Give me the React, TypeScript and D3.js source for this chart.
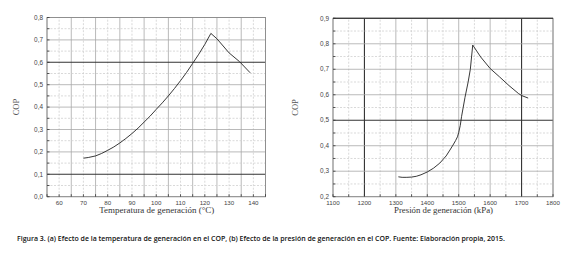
import React from "react";
import * as d3 from "d3";

// Chart (a): temperature of generation vs COP
const tempX = [70, 72, 75, 77.5, 80, 82.5, 85, 87.5, 90, 92.5, 95, 97.5, 100, 102.5, 105, 107.5, 110, 112.5, 115, 117.5, 120, 122.5, 125, 130, 134.3, 138.7];
const tempCOP = [0.172, 0.175, 0.182, 0.193, 0.207, 0.222, 0.24, 0.26, 0.282, 0.306, 0.333, 0.36, 0.39, 0.419, 0.45, 0.483, 0.518, 0.555, 0.595, 0.636, 0.68, 0.729, 0.705, 0.642, 0.603, 0.553];
const tempTicksX = [60, 70, 80, 90, 100, 110, 120, 130, 140];
const tempTicksY = [0, 0.1, 0.2, 0.3, 0.4, 0.5, 0.6, 0.7, 0.8];

// Chart (b): pressure of generation vs COP
const presX = [1308, 1320, 1335, 1350, 1365, 1380, 1400, 1420, 1440, 1460, 1472, 1482, 1490, 1496, 1500, 1505, 1509, 1520, 1530, 1537, 1544.6, 1570, 1600, 1630, 1660, 1690, 1700, 1721];
const presCOP = [0.278, 0.276, 0.276, 0.277, 0.28, 0.286, 0.297, 0.312, 0.332, 0.36, 0.383, 0.403, 0.42, 0.435, 0.452, 0.48, 0.514, 0.59, 0.65, 0.7, 0.795, 0.748, 0.703, 0.67, 0.636, 0.605, 0.597, 0.587];
const presTicksX = [1100, 1200, 1300, 1400, 1500, 1600, 1700, 1800];
const presTicksY = [0.2, 0.3, 0.4, 0.5, 0.6, 0.7, 0.8, 0.9];

const caption =
  "Figura 3. (a) Efecto de la temperatura de generación en el COP, (b) Efecto de la presión de generación en el COP. Fuente: Elaboración propia, 2015.";

const fmt = (v: number) => v.toFixed(1).replace(".", ",");

type PanelProps = {
  xs: number[];
  ys: number[];
  xDomain: [number, number];
  yDomain: [number, number];
  xRange: [number, number];
  yRange: [number, number];
  xTicks: number[];
  yTicks: number[];
  xStep: number;
  yStep: number;
  darkX: number[];
  darkY: number[];
  darkTop: boolean;
  xTitle: string;
  xTitleLen: number;
  copX: number;
};

function Panel(p: PanelProps) {
  const x = d3.scaleLinear().domain(p.xDomain).range(p.xRange);
  const y = d3.scaleLinear().domain(p.yDomain).range(p.yRange);
  const [x0, x1] = p.xRange;
  const [y0, y1] = p.yRange; // y0 bottom, y1 top
  const eps = 1e-6;
  const minorX: number[] = [];
  for (let v = p.xDomain[0]; v <= p.xDomain[1] + eps; v += p.xStep / 2) minorX.push(+v.toFixed(4));
  const minorY: number[] = [];
  for (let v = p.yDomain[0]; v <= p.yDomain[1] + eps; v += p.yStep / 2) minorY.push(+v.toFixed(4));
  const isMajor = (v: number, step: number, base: number) =>
    Math.abs(((v - base) / step) - Math.round((v - base) / step)) < 1e-4;
  const line = d3
    .line<number>()
    .x((_, i) => x(p.xs[i]))
    .y((d) => y(d))
    .curve(d3.curveLinear);
  const isDark = (arr: number[], v: number) => arr.some((a) => Math.abs(a - v) < 1e-6);
  return (
    <g>
      {minorX.map((v) => {
        const maj = isMajor(v, p.xStep, p.xDomain[0]);
        const dark = isDark(p.darkX, v);
        return (
          <line
            key={"gx" + v}
            x1={x(v)}
            x2={x(v)}
            y1={y0}
            y2={y1}
            stroke={dark ? "#333" : maj ? "#a8a8a8" : "#cfcfcf"}
            strokeWidth={dark ? 1.1 : 0.8}
            strokeDasharray={maj || dark ? undefined : "2,1.5"}
          />
        );
      })}
      {minorY.map((v) => {
        const maj = isMajor(v, p.yStep, p.yDomain[0]);
        const dark = isDark(p.darkY, v);
        return (
          <line
            key={"gy" + v}
            x1={x0}
            x2={x1}
            y1={y(v)}
            y2={y(v)}
            stroke={dark ? "#333" : maj ? "#a8a8a8" : "#cfcfcf"}
            strokeWidth={dark ? 1.1 : 0.8}
            strokeDasharray={maj || dark ? undefined : "2,1.5"}
          />
        );
      })}
      <rect x={x0} y={y1} width={x1 - x0} height={y0 - y1} fill="none" stroke="#8a8a8a" strokeWidth={0.9} />
      {p.darkTop && <line x1={x0} x2={x1} y1={y1} y2={y1} stroke="#222" strokeWidth={1.1} />}
      {minorX.map((v) => (
        <line key={"tx" + v} x1={x(v)} x2={x(v)} y1={y0} y2={y0 - 2.5} stroke="#333" strokeWidth={0.8} />
      ))}
      {minorY.map((v) => (
        <line key={"ty" + v} x1={x0} x2={x0 + 2.5} y1={y(v)} y2={y(v)} stroke="#333" strokeWidth={0.8} />
      ))}
      <path d={line(p.ys) || ""} fill="none" stroke="#222" strokeWidth={0.9} strokeLinejoin="round" />
      {p.xTicks.map((v) => (
        <text
          key={"lx" + v}
          x={x(v)}
          y={y0 + 8.5}
          textAnchor="middle"
          fontFamily="Liberation Sans, Arial, sans-serif"
          fontSize={6.2}
          fill="#444"
        >
          {v}
        </text>
      ))}
      {p.yTicks.map((v) => (
        <text
          key={"ly" + v}
          x={x0 - 4}
          y={y(v) + 2.2}
          textAnchor="end"
          fontFamily="Liberation Sans, Arial, sans-serif"
          fontSize={6.4}
          fill="#444"
        >
          {fmt(v)}
        </text>
      ))}
      <text
        x={(x0 + x1) / 2 + 0.5}
        y={y0 + 16}
        textAnchor="middle"
        fontFamily="Liberation Serif, Times New Roman, serif"
        fontSize={9}
        fill="#333"
        textLength={p.xTitleLen}
        lengthAdjust="spacingAndGlyphs"
      >
        {p.xTitle}
      </text>
      <text
        transform={`translate(${p.copX},${(y0 + y1) / 2}) rotate(-90)`}
        textAnchor="middle"
        fontFamily="Liberation Serif, Times New Roman, serif"
        fontSize={8.5}
        fill="#555"
      >
        COP
      </text>
    </g>
  );
}

export default function App() {
  return (
    <svg
      width={570}
      height={268}
      style={{ position: "absolute", left: 0, top: 0, background: "#fff" }}
    >
      <rect width={570} height={268} fill="#fff" />
      <Panel
        xs={tempX}
        ys={tempCOP}
        xDomain={[55, 145]}
        yDomain={[0, 0.8]}
        xRange={[47, 265.5]}
        yRange={[196.7, 17.5]}
        xTicks={tempTicksX}
        yTicks={tempTicksY}
        xStep={10}
        yStep={0.1}
        darkX={[]}
        darkY={[0.1, 0.6]}
        darkTop={false}
        xTitle="Temperatura de generación (°C)"
        xTitleLen={115}
        copX={19}
      />
      <Panel
        xs={presX}
        ys={presCOP}
        xDomain={[1100, 1800]}
        yDomain={[0.2, 0.9]}
        xRange={[333, 553]}
        yRange={[196.7, 18.3]}
        xTicks={presTicksX}
        yTicks={presTicksY}
        xStep={100}
        yStep={0.1}
        darkX={[1200, 1700]}
        darkY={[0.5]}
        darkTop={true}
        xTitle="Presión de generación (kPa)"
        xTitleLen={99}
        copX={298}
      />
      <text
        x={17}
        y={240.5}
        fontFamily="Open Sans, Liberation Sans, sans-serif"
        fontSize={7}
        fontWeight={600}
        fill="#111"
        textLength={488}
        lengthAdjust="spacingAndGlyphs"
      >
        {caption}
      </text>
    </svg>
  );
}
